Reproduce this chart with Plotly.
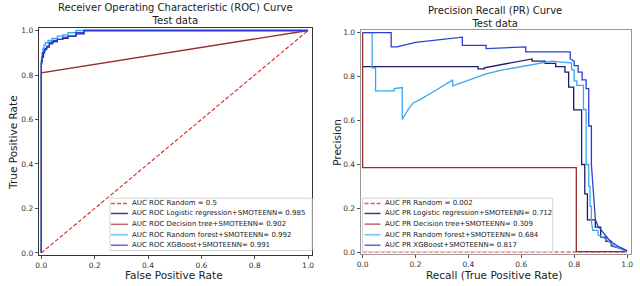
import plotly.graph_objects as go

W, H = 640, 286

# ROC curves (false positive rate, true positive rate)
roc_random_fpr = [0, 1]
roc_random_tpr = [0, 1]
roc_lr_fpr = [0, 0, 0.004, 0.008, 0.012, 0.02, 0.03, 0.04, 0.06, 0.08, 0.10, 0.13, 0.16, 0.20, 1.0]
roc_lr_tpr = [0, 0.80, 0.86, 0.88, 0.90, 0.915, 0.925, 0.94, 0.95, 0.96, 0.965, 0.975, 0.985, 1.0, 1.0]
roc_dt_fpr = [0, 0, 1]
roc_dt_tpr = [0, 0.81, 1]
roc_rf_fpr = [0, 0, 0.003, 0.006, 0.01, 0.015, 0.025, 0.04, 0.06, 0.08, 0.10, 0.13, 0.163, 1.0]
roc_rf_tpr = [0, 0.82, 0.87, 0.90, 0.92, 0.935, 0.945, 0.955, 0.965, 0.975, 0.98, 0.99, 1.0, 1.0]
roc_xgb_fpr = [0, 0, 0.002, 0.005, 0.01, 0.015, 0.02, 0.03, 0.045, 0.06, 0.08, 0.10, 0.13, 0.16, 0.75, 1.0]
roc_xgb_tpr = [0, 0.80, 0.85, 0.88, 0.90, 0.91, 0.92, 0.93, 0.945, 0.955, 0.96, 0.97, 0.975, 0.99, 1.0, 1.0]

# PR curves (recall, precision)
pr_random_rec = [0, 1]
pr_random_prec = [0.002, 0.002]
pr_lr_rec = [0, 0.436, 0.436, 0.46, 0.46, 0.55, 0.641, 0.641, 0.69, 0.69, 0.73, 0.73, 0.765, 0.765,
             0.779, 0.779, 0.798, 0.798, 0.828, 0.828, 0.84, 0.84, 0.85, 0.85, 0.88, 0.88, 0.90, 0.90,
             0.92, 0.92, 0.94, 0.94, 0.97, 1.0]
pr_lr_prec = [0.845, 0.845, 0.835, 0.835, 0.84, 0.86, 0.88, 0.87, 0.87, 0.86, 0.86, 0.845, 0.845, 0.82,
              0.82, 0.752, 0.752, 0.648, 0.648, 0.40, 0.40, 0.266, 0.266, 0.148, 0.148, 0.115, 0.115, 0.07,
              0.07, 0.05, 0.05, 0.03, 0.02, 0.006]
pr_dt_rec = [0, 0, 0.808, 0.808, 1.0]
pr_dt_prec = [1.0, 0.386, 0.386, 0.004, 0.004]
pr_rf_rec = [0, 0.036, 0.036, 0.049, 0.049, 0.12, 0.12, 0.15, 0.15, 0.154, 0.172, 0.191, 0.217, 0.28,
             0.341, 0.341, 0.40, 0.467, 0.53, 0.592, 0.65, 0.716, 0.75, 0.79, 0.79, 0.80, 0.80, 0.81, 0.81,
             0.835, 0.835, 0.845, 0.845, 0.855, 0.855, 0.86, 0.86, 0.865, 0.865, 0.87, 0.89, 0.89, 0.92,
             0.95, 0.98, 1.0]
pr_rf_prec = [1.0, 1.0, 0.84, 0.84, 0.735, 0.735, 0.745, 0.75, 0.605, 0.614, 0.65, 0.68, 0.695, 0.74,
              0.785, 0.758, 0.782, 0.812, 0.83, 0.844, 0.857, 0.87, 0.866, 0.862, 0.83, 0.83, 0.78, 0.78, 0.76,
              0.76, 0.65, 0.65, 0.40, 0.40, 0.30, 0.30, 0.21, 0.21, 0.14, 0.10, 0.10, 0.08, 0.06,
              0.03, 0.015, 0.005]
pr_xgb_rec = [0, 0.108, 0.108, 0.13, 0.2, 0.3, 0.377, 0.377, 0.467, 0.467, 0.55, 0.617, 0.617, 0.785,
              0.785, 0.80, 0.80, 0.815, 0.815, 0.83, 0.83, 0.845, 0.845, 0.855, 0.855, 0.865, 0.865, 0.87,
              0.875, 0.88, 0.89, 0.91, 0.93, 0.95, 0.97, 1.0]
pr_xgb_prec = [1.0, 1.0, 0.935, 0.935, 0.955, 0.97, 0.979, 0.942, 0.942, 0.927, 0.93, 0.935, 0.912, 0.912,
               0.88, 0.87, 0.85, 0.85, 0.82, 0.82, 0.785, 0.785, 0.745, 0.745, 0.575, 0.575, 0.40, 0.30,
               0.20, 0.15, 0.12, 0.09, 0.06, 0.04, 0.025, 0.008]

roc_labels = ["AUC ROC Random = 0.5",
              "AUC ROC Logistic regression+SMOTEENN= 0.985",
              "AUC ROC Decision tree+SMOTEENN= 0.902",
              "AUC ROC Random forest+SMOTEENN= 0.992",
              "AUC ROC XGBoost+SMOTEENN= 0.991"]
pr_labels = ["AUC PR Random = 0.002",
             "AUC PR Logistic regression+SMOTEENN= 0.712",
             "AUC PR Decision tree+SMOTEENN= 0.309",
             "AUC PR Random forest+SMOTEENN= 0.684",
             "AUC PR XGBoost+SMOTEENN= 0.817"]

colors = ["#d62728", "#1c1c6e", "#962e2e", "#3aa6ee", "#2a3fd6"]
legend_colors = ["#e05555", "#3a3a84", "#b86a6a", "#6cc0f2", "#5a6ae0"]
dashes = ["4px,2px", "solid", "solid", "solid", "solid"]

fig = go.Figure()

roc_data = [(roc_random_fpr, roc_random_tpr), (roc_lr_fpr, roc_lr_tpr), (roc_dt_fpr, roc_dt_tpr),
            (roc_rf_fpr, roc_rf_tpr), (roc_xgb_fpr, roc_xgb_tpr)]
pr_data = [(pr_random_rec, pr_random_prec), (pr_lr_rec, pr_lr_prec), (pr_dt_rec, pr_dt_prec),
           (pr_rf_rec, pr_rf_prec), (pr_xgb_rec, pr_xgb_prec)]

for i, (x, y) in enumerate(roc_data):
    fig.add_trace(go.Scatter(x=x, y=y, mode="lines", name=roc_labels[i], showlegend=False,
                             line=dict(color=colors[i], width=1.3 if i else 1.1, dash=dashes[i],
                                       shape="linear" if i in (0, 2) else "vh"),
                             xaxis="x", yaxis="y"))
for i, (x, y) in enumerate(pr_data):
    fig.add_trace(go.Scatter(x=x, y=y, mode="lines", name=pr_labels[i], showlegend=False,
                             line=dict(color=colors[i], width=1.3 if i else 1.1, dash=dashes[i]),
                             xaxis="x2", yaxis="y2"))


def px(v):
    return v / W


def py(v):
    return 1 - v / H


def add_legend(labels, box, rows, line_x, text_x):
    x0, y0, x1, y1 = box
    fig.add_shape(type="rect", xref="paper", yref="paper", x0=px(x0), x1=px(x1), y0=py(y1), y1=py(y0),
                  line=dict(color="#d4d4d4", width=1), fillcolor="rgba(255,255,255,0.85)", layer="above")
    for i, lab in enumerate(labels):
        fig.add_shape(type="line", xref="paper", yref="paper", x0=px(line_x[0]), x1=px(line_x[1]),
                      y0=py(rows[i]), y1=py(rows[i]), layer="above",
                      line=dict(color=legend_colors[i], width=1.5, dash="4px,2px" if i == 0 else "solid"))
        fig.add_annotation(text=lab, xref="paper", yref="paper", x=px(text_x), y=py(rows[i]),
                           xanchor="left", yanchor="middle", showarrow=False,
                           font=dict(size=7, color="#222"))


add_legend(roc_labels, (107, 200, 311, 253), [205.3, 215.5, 226.5, 237, 247.7], (108, 125), 127)
add_legend(pr_labels, (362, 200, 554, 254), [205.3, 215.5, 226.3, 237, 247.7], (364, 380), 383)

titles = [("Receiver Operating Characteristic (ROC) Curve<br>Test data", 173, 13),
          ("Precision Recall (PR) Curve<br>Test data", 496, 16)]
for t, x, y in titles:
    fig.add_annotation(text=t, xref="paper", yref="paper", x=px(x), y=py(y), xanchor="center",
                       yanchor="middle", showarrow=False, font=dict(size=10, color="#222"))

axis_titles = [("False Positive Rate", 172, 278, 0), ("True Positive Rate", 9, 143, -90),
               ("Recall (True Positive Rate)", 495, 278, 0), ("Precision", 336, 143, -90)]
for t, x, y, a in axis_titles:
    fig.add_annotation(text=t, xref="paper", yref="paper", x=px(x), y=py(y), xanchor="center",
                       yanchor="middle", showarrow=False, textangle=a, font=dict(size=10.5, color="#222"))

tickvals = [0, 0.2, 0.4, 0.6, 0.8, 1.0]


def axis(domain, rng, lc):
    return dict(domain=domain, range=rng, showgrid=False, zeroline=False, showline=True, mirror=True,
                linecolor=lc, linewidth=1, ticks="outside", ticklen=3, tickcolor="#555",
                tickvals=tickvals, tickformat=".1f", tickfont=dict(size=7.5, color="#333"))


fig.update_layout(
    width=W, height=H,
    margin=dict(l=0, r=0, t=0, b=0),
    paper_bgcolor="white", plot_bgcolor="white",
    font=dict(family="DejaVu Sans"),
    xaxis=dict(axis([px(35), px(311)], [-0.01, 1.015], "#333"), anchor="y"),
    yaxis=dict(axis([py(258), py(27)], [-0.011, 1.013], "#333"), anchor="x"),
    xaxis2=dict(axis([px(360), px(633)], [-0.0075, 1.015], "#999"), anchor="y2"),
    yaxis2=dict(axis([py(257), py(29)], [-0.009, 1.0135], "#999"), anchor="x2"),
)

fig.write_html("out.html", config={"displayModeBar": False},
               post_script="document.body.style.margin='0';document.body.style.overflow='hidden';")
